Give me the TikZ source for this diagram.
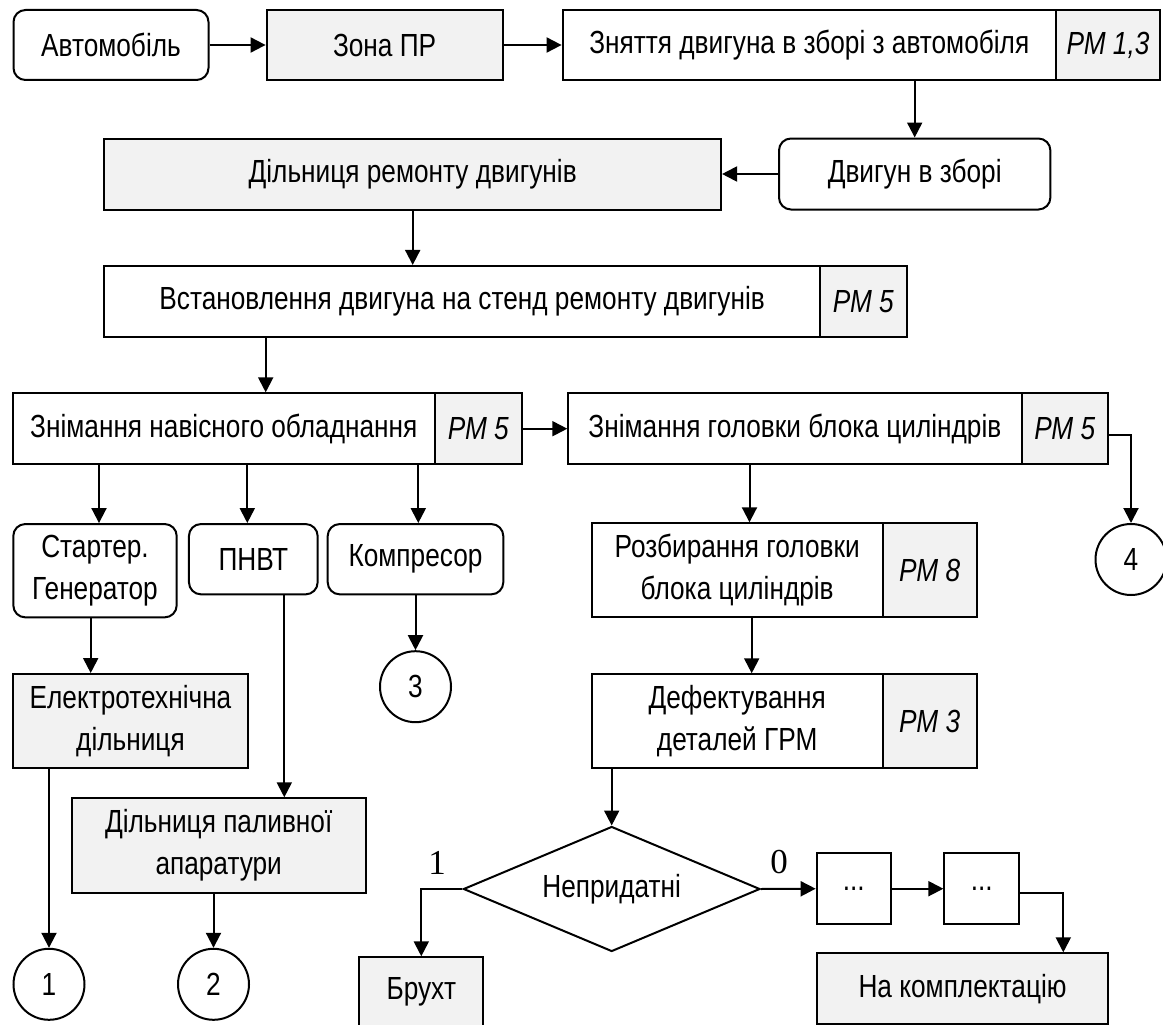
\documentclass[tikz,border=0pt]{standalone}
\usepackage{fontspec}
\setmainfont{Liberation Sans}[FakeStretch=0.82]
\newfontfamily\serifnum{Liberation Serif}
\usetikzlibrary{arrows.meta,shapes.geometric}
\definecolor{boxgray}{HTML}{F2F2F2}
\begin{document}
\begin{tikzpicture}[x=1pt,y=-1pt, line width=2pt,
  every node/.style={font=\fontsize{32}{42}\selectfont, inner sep=0pt},
  bx/.style={draw, rectangle, align=center},
  gbx/.style={bx, fill=boxgray},
  rbx/.style={bx, rounded corners=12pt},
  pm/.style={gbx, font=\fontsize{32}{42}\selectfont\itshape},
  circ/.style={draw, circle, minimum size=71pt},
  dg/.style={draw, diamond, minimum width=296.6pt, minimum height=125pt, shape aspect=2.37},
  sz/.style 2 args={minimum width=#1, minimum height=#2},
  arr/.style={-{Triangle[length=15pt,width=15pt]}},
  lbl/.style={font=\serifnum\fontsize{35}{35}\selectfont}
]
\useasboundingbox (0,0) rectangle (1163,1025);

% row 1
\node[rbx, sz={195pt}{70pt}] (avto) at (111,45) {Автомобіль};
\node[gbx, sz={236pt}{70pt}] (zona) at (384.6,45) {Зона ПР};
\node[bx, sz={493.4pt}{70pt}] (znyat) at (809.3,45) {Зняття двигуна в зборі з автомобіля};
\node[pm, sz={104pt}{70pt}] (pm13) at (1108,45) {РМ 1,3};

% row 2
\node[gbx, sz={616.7pt}{71pt}] (dilrem) at (412.7,174) {Дільниця ремонту двигунів};
\node[rbx, sz={271.4pt}{71pt}] (dvyg) at (914.7,174) {Двигун в зборі};

% row 3
\node[bx, sz={715.7pt}{70.7pt}] (vstan) at (462.2,301.3) {Встановлення двигуна на стенд ремонту двигунів};
\node[pm, sz={86.7pt}{70.7pt}] (pm5a) at (863.3,301.3) {РМ 5};

% row 4
\node[bx, sz={422.3pt}{70.7pt}] (znimnav) at (223.8,428.7) {Знімання навісного обладнання};
\node[pm, sz={86.7pt}{70.7pt}] (pm5b) at (478.3,428.7) {РМ 5};
\node[bx, sz={453.2pt}{70.7pt}] (znimgol) at (794.9,428.7) {Знімання головки блока циліндрів};
\node[pm, sz={86.5pt}{70.7pt}] (pm5c) at (1064.75,428.7) {РМ 5};

% row 5
\node[rbx, sz={163.4pt}{93.3pt}] (starter) at (95,570.7) {Стартер.\\Генератор};
\node[rbx, sz={128.7pt}{70.3pt}] (pnvt) at (253.3,559.2) {ПНВТ};
\node[rbx, sz={175.6pt}{70.3pt}] (kompr) at (415.5,559.2) {Компресор};
\node[bx, sz={291pt}{94pt}] (rozb) at (737.2,570.3) {Розбирання головки\\блока циліндрів};
\node[pm, sz={94pt}{94pt}] (pm8) at (929.7,570.3) {РМ 8};
\node[circ] (c4) at (1131,559.5) {4};

% row 6
\node[gbx, sz={235.6pt}{94.3pt}] (elektro) at (130.5,721.2) {Електротехнічна\\дільниця};
\node[circ] (c3) at (415.5,686.7) {3};
\node[bx, sz={291pt}{94pt}] (defekt) at (737.2,721.3) {Дефектування\\деталей ГРМ};
\node[pm, sz={94pt}{94pt}] (pm3) at (929.7,721.3) {РМ 3};

% row 7
\node[gbx, sz={294pt}{94.4pt}] (palyv) at (218.7,845.5) {Дільниця паливної\\апаратури};
\node[dg] (dia) at (611.7,889) {Непридатні};
\node[bx, sz={74.3pt}{70.7pt}] (dots1) at (853.8,888.7) {...};
\node[bx, sz={74.7pt}{70.7pt}] (dots2) at (981.7,888.7) {...};
\node[lbl] (l1) at (437,863) {1};
\node[lbl] (l0) at (779,862.5) {0};

% bottom
\node[circ] (c1) at (49,984.3) {1};
\node[circ] (c2) at (213.5,984.3) {2};
\node[gbx, sz={124pt}{70pt}] (bruht) at (421.3,992.3) {Брухт};
\node[gbx, sz={291.6pt}{70.7pt}] (kompl) at (962.5,988.7) {На комплектацію};

% helper columns
\coordinate (xa) at (265.7,0);
\coordinate (xs) at (99,0);
\coordinate (xp) at (247.3,0);
\coordinate (xk) at (418.3,0);
\coordinate (xg) at (749.5,0);
\coordinate (xst) at (90.7,0);
\coordinate (xpn) at (284.3,0);
\coordinate (xr) at (751.7,0);
\coordinate (xkm) at (1063.3,0);

% connectors
\draw[arr] (avto) -- (zona);
\draw[arr] (zona) -- (znyat);
\draw[arr] (dvyg.north |- znyat.south) -- (dvyg.north);
\draw[arr] (dvyg) -- (dilrem);
\draw[arr] (dilrem.south) -- (dilrem.south |- vstan.north);
\draw[arr] (xa |- vstan.south) -- (xa |- znimnav.north);
\draw[arr] (pm5b) -- (znimgol);
\draw[arr] (xs |- znimnav.south) -- (xs |- starter.north);
\draw[arr] (xp |- znimnav.south) -- (xp |- pnvt.north);
\draw[arr] (xk |- znimnav.south) -- (xk |- kompr.north);
\draw[arr] (xg |- znimgol.south) -- (xg |- rozb.north);
\draw[arr] ([yshift=-6pt]pm5c.east) -| (c4.north);
\draw[arr] (xst |- starter.south) -- (xst |- elektro.north);
\draw[arr] (xpn |- pnvt.south) -- (xpn |- palyv.north);
\draw[arr] (kompr) -- (c3);
\draw[arr] (xr |- rozb.south) -- (xr |- defekt.north);
\draw[arr] (c1.north |- elektro.south) -- (c1.north);
\draw[arr] (c2.north |- palyv.south) -- (c2.north);
\draw[arr] (dia.north |- defekt.south) -- (dia.north);
\draw[arr] (dia.west) -| (bruht.north);
\draw[arr] (dia.east) -- (dots1.west);
\draw[arr] (dots1) -- (dots2);
\draw[arr] ([yshift=-4pt]dots2.east) -| (xkm |- kompl.north);
\end{tikzpicture}
\end{document}
